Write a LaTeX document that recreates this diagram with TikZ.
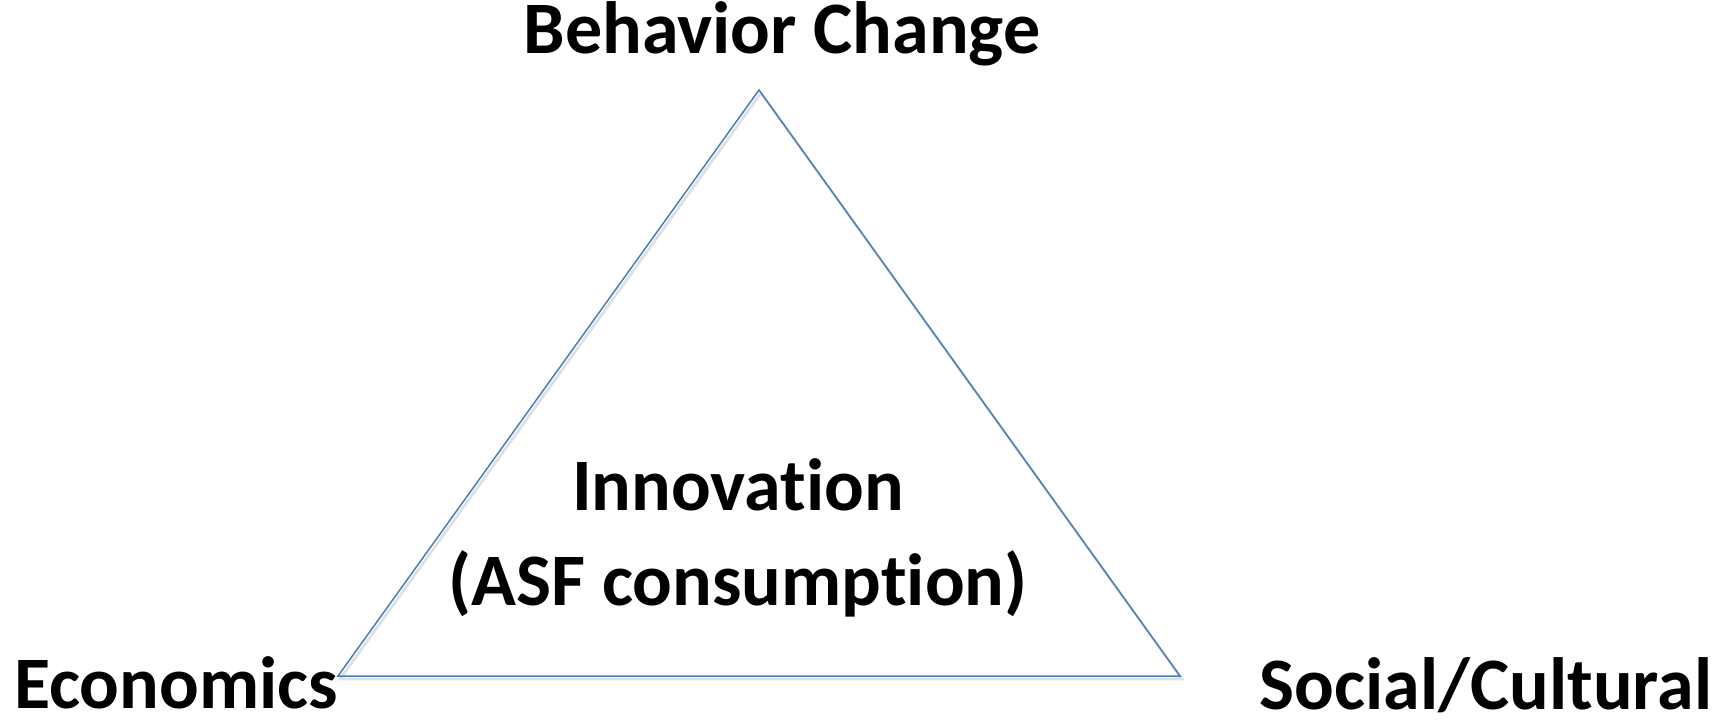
\documentclass[tikz,border=0pt]{standalone}
\usepackage{fontspec}
\setmainfont{Carlito}[Ligatures=NoCommon]
\usetikzlibrary{positioning}
\definecolor{edgeblue}{HTML}{4A7EBB}
\tikzset{
  corner/.style={font=\fontsize{37}{47.5}\selectfont\bfseries, inner sep=0pt, anchor=base},
  edgeshadow/.style={black!12, line width=1.4pt},
}
\begin{document}
\begin{tikzpicture}[x=0.5pt,y=-0.5pt]
  \useasboundingbox (0,0) rectangle (1731,719);

  \coordinate (apex) at (759,90);
  \coordinate (left) at (338,676);
  \coordinate (right) at (1180,676);

  \draw[edgeshadow] ([shift={(2,3)}]apex) -- ([shift={(2,3)}]left)
    -- ([shift={(2,3)}]right) -- cycle;
  \draw[edgeblue, line width=0.75pt] (apex) -- (left) -- (right) -- cycle;

  \node[corner] (behav) at (782,53) {Behavior Change};
  \node[corner] (econ) at (176,708) {Economics};
  \node[corner] (social) at (1486,709) {Social/Cultural};

  \node[corner, align=center] (innov) at (738,605) {Innovation\\(ASF consumption)};
\end{tikzpicture}
\end{document}
